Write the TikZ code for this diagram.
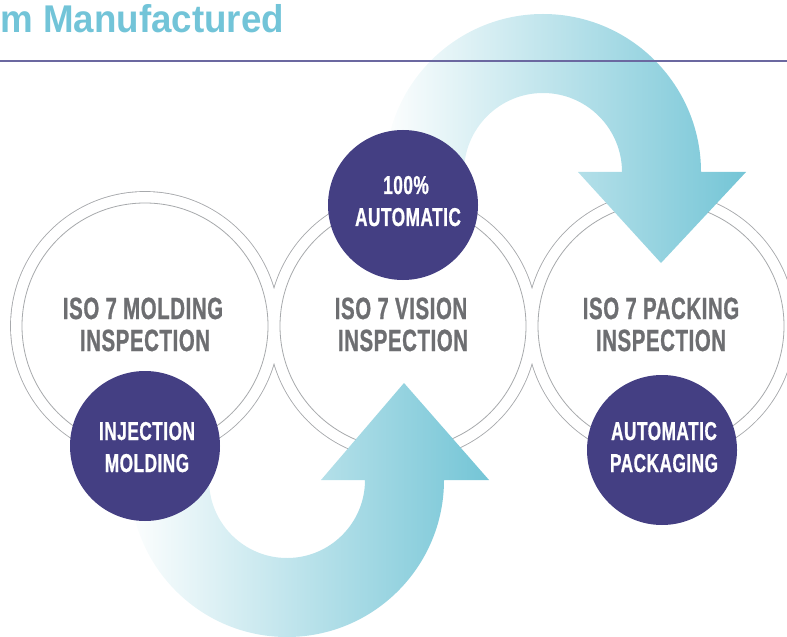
\documentclass[tikz,border=0pt]{standalone}
\usepackage{fontspec}
\newfontfamily\condf[FakeStretch=0.665,FakeBold=0.8,LetterSpace=2]{Liberation Sans}
\newfontfamily\titlef[FakeStretch=0.95]{Liberation Sans}
\definecolor{purp}{HTML}{443F83}
\definecolor{graytext}{HTML}{6D6E71}
\definecolor{ringgray}{HTML}{A7A9AC}
\definecolor{teal}{HTML}{74C5D6}
\definecolor{arrowL}{HTML}{FDFEFE}
\definecolor{arrowM}{HTML}{E0EFF4}
\definecolor{linecol}{HTML}{6B68A0}
\definecolor{titlecol}{HTML}{72C4D8}
\tikzset{
  ringout/.style={draw=ringgray, line width=1.3pt},
  ringfill/.style={fill=white},
  ringin/.style={draw=ringgray, line width=0.6pt},
  graytxt/.style={text=graytext, font=\condf\bfseries\fontsize{23}{24}\selectfont, inner sep=0pt, anchor=base},
  whitetxt/.style={text=white, font=\condf\bfseries\fontsize{19.4}{20}\selectfont, inner sep=0pt, anchor=base},
  pcirc/.style={circle, fill=purp, minimum size=112.5pt, inner sep=0pt},
  arrowshade/.style={left color=arrowL, middle color=arrowM, right color=teal},
  hline/.style={draw=linecol, line width=1.3pt},
}
\begin{document}
\begin{tikzpicture}[x=0.75pt,y=0.75pt]
\useasboundingbox (0,0) rectangle (787,636);
% title
\node[anchor=base west, inner sep=0pt, text=titlecol, font=\titlef\bfseries\fontsize{29}{30}\selectfont] (title) at (0,603) {m Manufactured};
% ring circles
\coordinate (c1) at (145,310);
\coordinate (c2) at (403,310);
\coordinate (c3) at (661,310);
\foreach \c in {c1,c2,c3} \draw[ringout] (\c) circle[radius=134];
\foreach \c in {c1,c2,c3} \fill[ringfill] (\c) circle[radius=134];
\foreach \c in {c1,c2,c3} \draw[ringin] (\c) circle[radius=123];
% arrows
\shade[arrowshade] (130,156) arc[start angle=180,end angle=360,radius=157] -- (489,156) -- (404,253) -- (321,156) -- (365,156) arc[start angle=0,end angle=-180,radius=78] -- cycle;
\shade[arrowshade] (385,464) arc[start angle=180,end angle=0,radius=158] -- (746,464) -- (661,373) -- (578,464) -- (622,464) arc[start angle=0,end angle=180,radius=79] -- cycle;
% header line
\coordinate (hl) at (0,575);
\coordinate (hr) at (787,575);
\draw[hline] (hl) -- (hr);
% purple circles
\node[pcirc] (inj) at (145,190) {};
\node[pcirc] (auto) at (403,431) {};
\node[pcirc] (pack) at (662,186) {};
% gray labels
\node[graytxt] (t1a) at (143,317) {ISO 7 MOLDING};
\node[graytxt] (t1b) at (145,285) {INSPECTION};
\node[graytxt] (t2a) at (401,317) {ISO 7 VISION};
\node[graytxt] (t2b) at (403,285) {INSPECTION};
\node[graytxt] (t3a) at (661,317) {ISO 7 PACKING};
\node[graytxt] (t3b) at (661,285) {INSPECTION};
% white labels
\node[whitetxt] (w1a) at (147,196) {INJECTION};
\node[whitetxt] (w1b) at (147,164) {MOLDING};
\node[whitetxt] (w2a) at (406,442) {100\%};
\node[whitetxt] (w2b) at (408,410) {AUTOMATIC};
\node[whitetxt] (w3a) at (664,196) {AUTOMATIC};
\node[whitetxt] (w3b) at (664,164) {PACKAGING};
\end{tikzpicture}
\end{document}
